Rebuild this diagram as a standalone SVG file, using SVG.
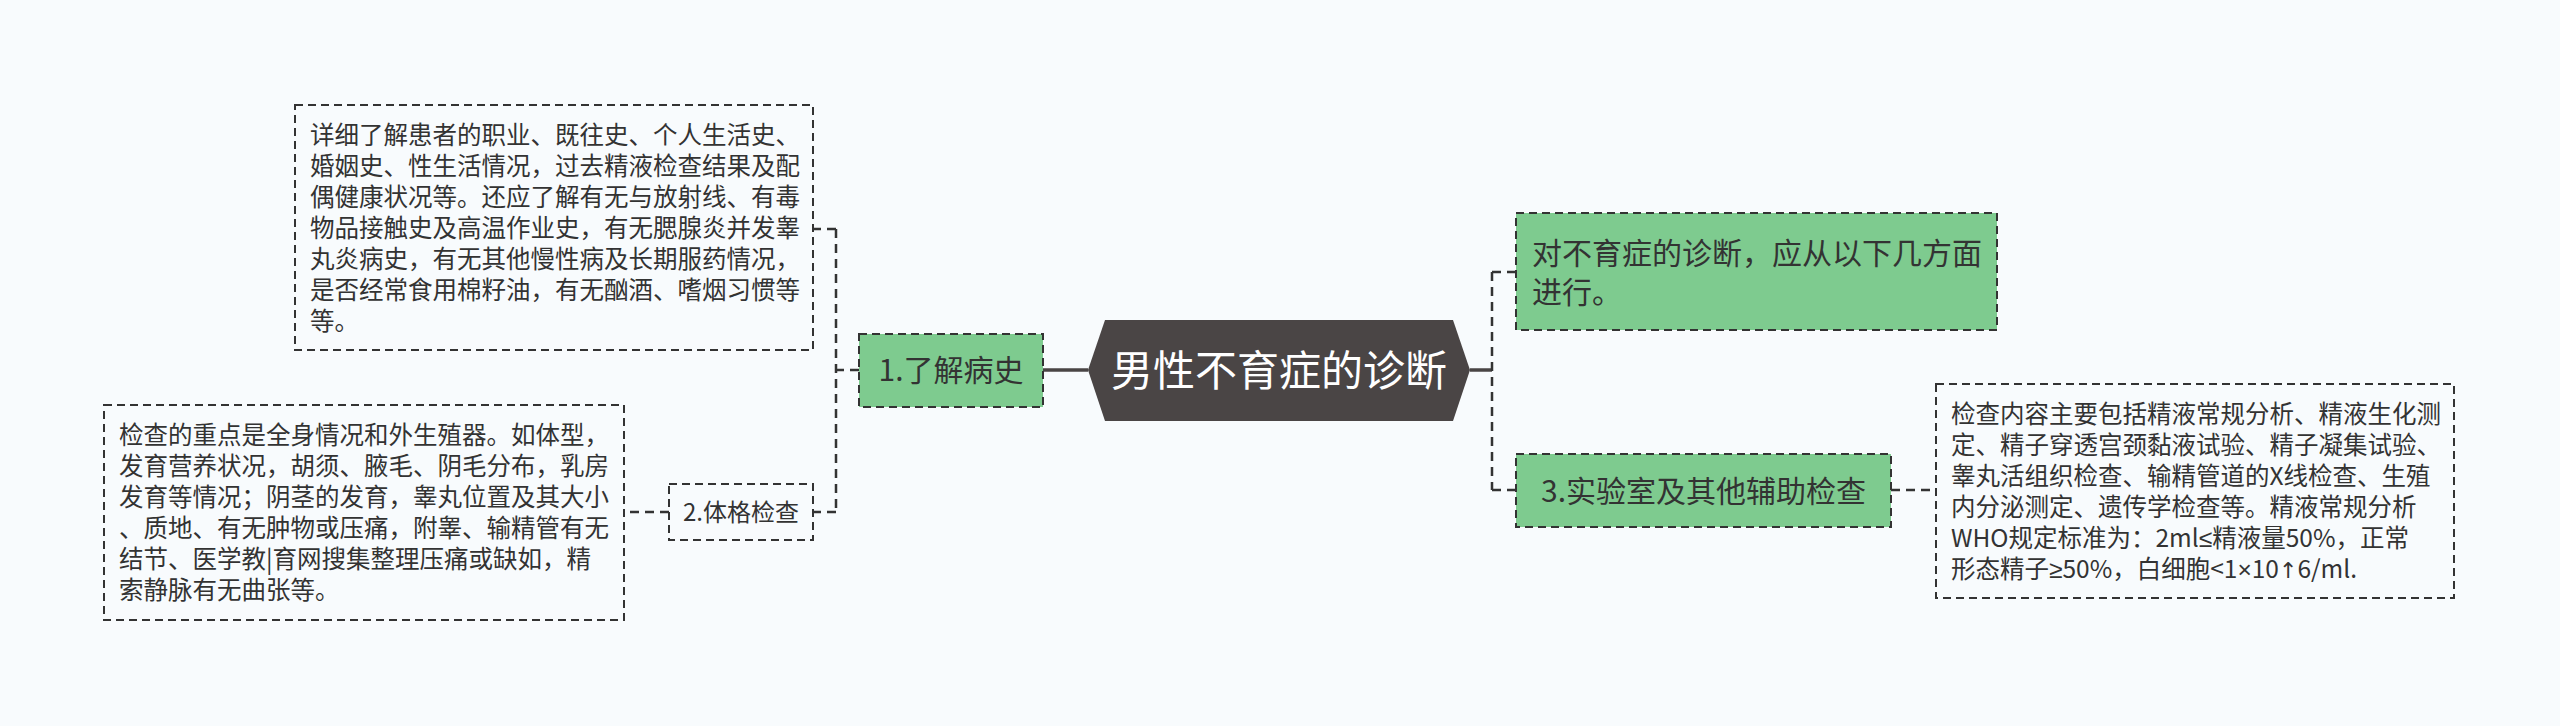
<svg xmlns="http://www.w3.org/2000/svg" width="2560" height="726" viewBox="0 0 2560 726">
<style>
text{font-family:"Noto Sans CJK SC","Noto Sans",sans-serif;fill:#333}
.box{fill:none;stroke:#333;stroke-width:2;stroke-dasharray:8 5}
.green{fill:#7ECB8F;stroke:#333;stroke-width:2;stroke-dasharray:8 5}
.note{font-size:24.5px}
.topic{font-size:30px}
.sym{font-family:"Liberation Sans","DejaVu Sans",sans-serif}
.arr{font-family:"DejaVu Sans",sans-serif;font-size:22px}
.dash{fill:none;stroke:#333;stroke-width:2.5;stroke-dasharray:9 6}
.solid{fill:none;stroke:#4a4545;stroke-width:3.5}
</style>
<rect width="2560" height="726" fill="#F8FBFD"/>
<g id="connectors">
<line class="solid" x1="1043" y1="370" x2="1088" y2="370"/>
<path class="dash" d="M859 370H836M836 229V512M836 229H813M836 512H813"/>
<path class="dash" d="M669 512H624"/>
<line class="solid" x1="1470" y1="370" x2="1492" y2="370"/>
<path class="dash" d="M1492 272V490M1492 272H1516M1492 490H1516"/>
<path class="dash" d="M1891 490H1936"/>
</g>
<g id="root">
<polygon points="1088,370 1105,320 1453,320 1470,370 1453,421 1105,421" fill="#4A4545"/>
<text x="1279" y="386" font-size="42" text-anchor="middle" style="fill:#fff">男性不育症的诊断</text>
</g>
<g id="n1">
<rect class="green" x="859" y="334" width="184" height="73"/>
<text class="topic" x="951" y="381" text-anchor="middle">1.了解病史</text>
</g>
<g id="n1-note">
<rect class="box" x="295" y="105" width="518" height="245"/>
<text class="note">
<tspan x="310" y="143.5">详细了解患者的职业、既往史、个人生活史、</tspan>
<tspan x="310" y="174.5">婚姻史、性生活情况，过去精液检查结果及配</tspan>
<tspan x="310" y="205.5">偶健康状况等。还应了解有无与放射线、有毒</tspan>
<tspan x="310" y="236.5">物品接触史及高温作业史，有无腮腺炎并发睾</tspan>
<tspan x="310" y="267.5">丸炎病史，有无其他慢性病及长期服药情况，</tspan>
<tspan x="310" y="298.5">是否经常食用棉籽油，有无酗酒、嗜烟习惯等</tspan>
<tspan x="310" y="329.5">等。</tspan>
</text>
</g>
<g id="n2">
<rect class="box" x="669" y="484" width="144" height="56"/>
<text x="741" y="521" font-size="24" text-anchor="middle">2.体格检查</text>
</g>
<g id="n2-note">
<rect class="box" x="104" y="405" width="520" height="215"/>
<text class="note">
<tspan x="119" y="444">检查的重点是全身情况和外生殖器。如体型，</tspan>
<tspan x="119" y="475">发育营养状况，胡须、腋毛、阴毛分布，乳房</tspan>
<tspan x="119" y="506">发育等情况；阴茎的发育，睾丸位置及其大小</tspan>
<tspan x="119" y="537">、质地、有无肿物或压痛，附睾、输精管有无</tspan>
<tspan x="119" y="568">结节、医学教|育网搜集整理压痛或缺如，精</tspan>
<tspan x="119" y="599">索静脉有无曲张等。</tspan>
</text>
</g>
<g id="n-intro">
<rect class="green" x="1516" y="213" width="481" height="117"/>
<text class="topic">
<tspan x="1532" y="263.5">对不育症的诊断，应从以下几方面</tspan>
<tspan x="1532" y="302.5">进行。</tspan>
</text>
</g>
<g id="n3">
<rect class="green" x="1516" y="454" width="375" height="73"/>
<text class="topic" x="1703.5" y="502" text-anchor="middle">3.实验室及其他辅助检查</text>
</g>
<g id="n3-note">
<rect class="box" x="1936" y="384" width="518" height="214"/>
<text class="note">
<tspan x="1951" y="422.5">检查内容主要包括精液常规分析、精液生化测</tspan>
<tspan x="1951" y="453.5">定、精子穿透宫颈黏液试验、精子凝集试验、</tspan>
<tspan x="1951" y="484.5">睾丸活组织检查、输精管道的X线检查、生殖</tspan>
<tspan x="1951" y="515.5">内分泌测定、遗传学检查等。精液常规分析</tspan>
<tspan x="1951" y="546.5">WHO规定标准为：2ml<tspan class="sym">≤</tspan>精液量50%，正常</tspan>
<tspan x="1951" y="577.5">形态精子<tspan class="sym">≥</tspan>50%，白细胞&lt;1<tspan class="sym">×</tspan>10<tspan class="arr">↑</tspan>6/ml.</tspan>
</text>
</g>
</svg>
